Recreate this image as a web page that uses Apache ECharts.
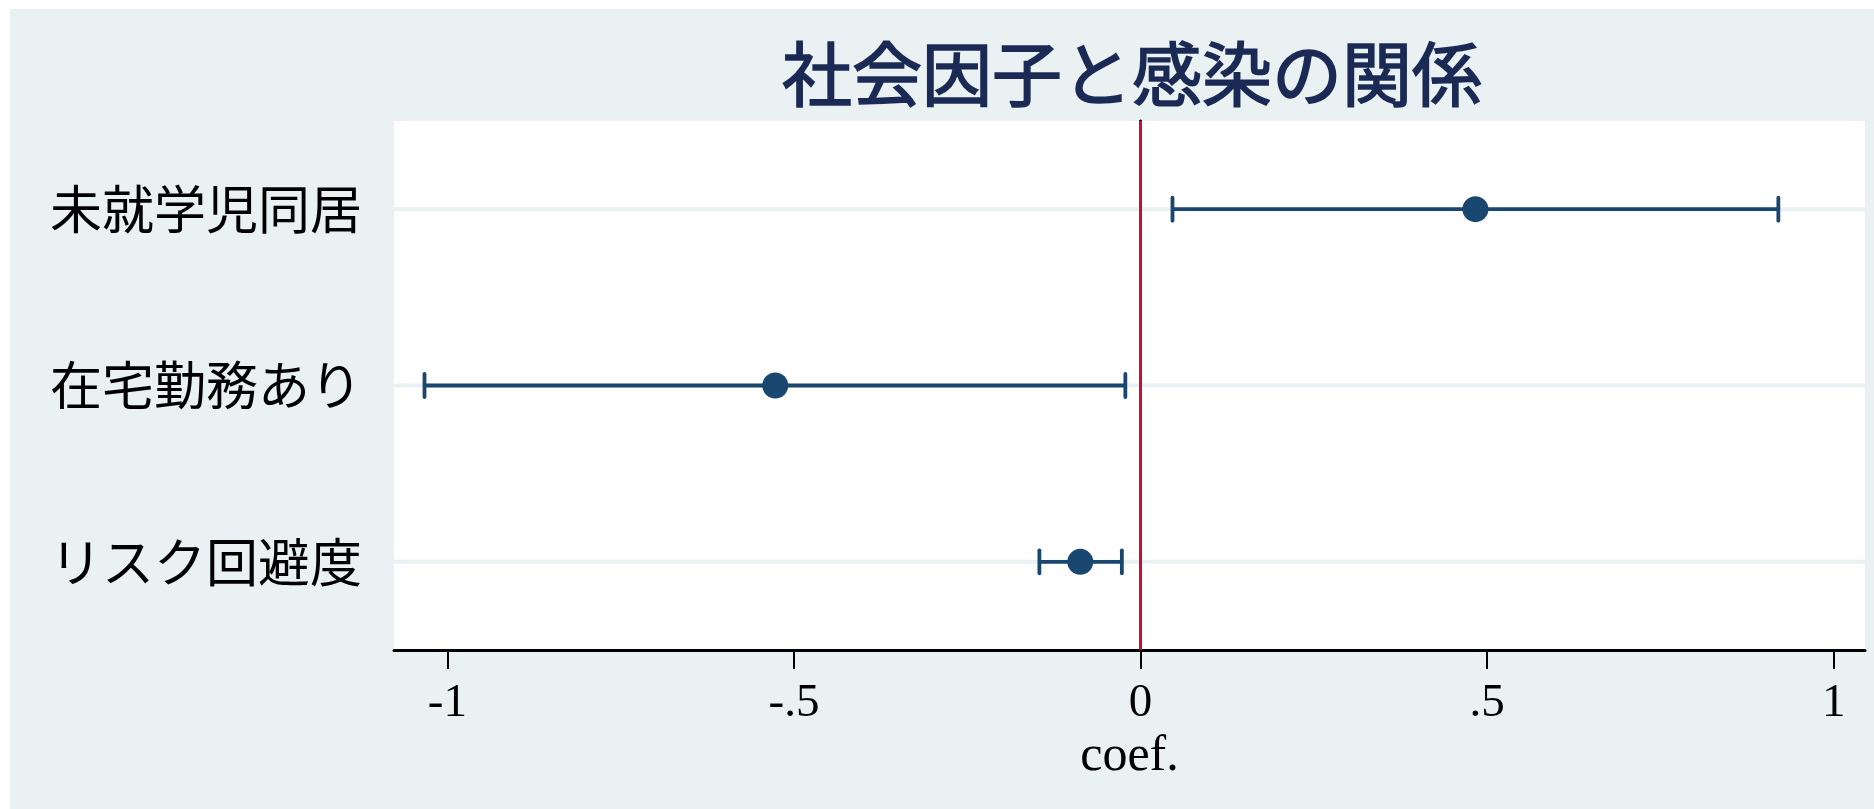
<!DOCTYPE html>
<html>
<head>
<meta charset="utf-8">
<script src="https://cdn.jsdelivr.net/npm/echarts@6/dist/echarts.min.js"></script>
<style>
  html, body { margin: 0; padding: 0; background: #ffffff; }
  #chart { width: 1874px; height: 809px; }
</style>
</head>
<body>
<div id="chart"></div>
<script>
// Factors, listed top to bottom
const factors = ['未就学児同居', '在宅勤務あり', 'リスク回避度'];
// Point estimates (coef.)
const coefs = [0.483, -0.527, -0.087];
// Confidence interval bounds
const lowerCI = [0.046, -1.033, -0.146];
const upperCI = [0.920, -0.022, -0.027];
// X axis tick positions and their labels
const xTicks = [-1, -0.5, 0, 0.5, 1];
const xTickLabels = ['-1', '-.5', '0', '.5', '1'];

const NAVY = '#1A476F';
const BG = '#E9F1F2';
const TITLE_COLOR = '#1B2A55';

const chart = echarts.init(document.getElementById('chart'));

const tickLabelMap = {};
xTicks.forEach((v, i) => { tickLabelMap[v] = xTickLabels[i]; });

chart.setOption({
  backgroundColor: '#ffffff',
  animation: false,
  graphic: [{
    type: 'rect',
    z: -10,
    silent: true,
    shape: { x: 10, y: 9, width: 1864, height: 800 },
    style: { fill: BG }
  }],
  title: {
    text: '社会因子と感染の関係',
    left: 777,
    top: 33,
    textStyle: {
      fontFamily: 'Noto Sans CJK JP',
      fontSize: 70,
      fontWeight: 'normal',
      color: TITLE_COLOR,
      textBorderColor: TITLE_COLOR,
      textBorderWidth: 1.6,
      lineHeight: 72
    }
  },
  grid: {
    left: 394,
    right: 9,
    top: 121,
    bottom: 159,
    show: true,
    backgroundColor: '#ffffff',
    borderWidth: 0
  },
  xAxis: {
    type: 'value',
    min: -1.077,
    max: 1.045,
    name: 'coef.',
    nameLocation: 'middle',
    nameGap: 76,
    nameTextStyle: {
      fontFamily: 'Liberation Serif',
      fontSize: 50,
      color: '#000000'
    },
    axisLine: { show: true, lineStyle: { color: '#000000', width: 3 } },
    axisTick: {
      show: true,
      length: 19,
      customValues: xTicks,
      lineStyle: { color: '#000000', width: 2 }
    },
    axisLabel: {
      customValues: xTicks,
      margin: 30,
      fontFamily: 'Liberation Serif',
      fontSize: 47,
      color: '#000000',
      formatter: v => tickLabelMap[v] !== undefined ? tickLabelMap[v] : ''
    },
    splitLine: { show: false }
  },
  yAxis: {
    type: 'category',
    data: factors,
    inverse: true,
    boundaryGap: true,
    axisLine: { show: true, lineStyle: { color: '#000000', width: 3 } },
    axisTick: {
      show: true,
      alignWithLabel: true,
      length: 19,
      lineStyle: { color: '#000000', width: 2 }
    },
    axisLabel: {
      margin: 32,
      fontFamily: 'Noto Sans CJK JP',
      fontSize: 52,
      color: '#000000'
    },
    splitLine: { show: false }
  },
  series: [
    {
      // horizontal guide line through each factor row
      type: 'custom',
      z: 1,
      silent: true,
      data: factors.map((f, i) => [0, i]),
      encode: { x: 0, y: 1 },
      renderItem: (params, api) => {
        const cs = params.coordSys;
        const p = api.coord([api.value(0), api.value(1)]);
        return {
          type: 'line',
          shape: { x1: cs.x, y1: p[1], x2: cs.x + cs.width, y2: p[1] },
          style: { stroke: BG, lineWidth: 4 }
        };
      }
    },
    {
      // confidence interval bars with end caps
      type: 'custom',
      z: 3,
      data: factors.map((f, i) => [lowerCI[i], upperCI[i], i]),
      encode: { x: [0, 1], y: 2 },
      renderItem: (params, api) => {
        const lo = api.coord([api.value(0), api.value(2)]);
        const hi = api.coord([api.value(1), api.value(2)]);
        const h = 11.5;
        const style = { stroke: NAVY, lineWidth: 3.8, lineCap: 'round' };
        return {
          type: 'group',
          children: [
            { type: 'line', shape: { x1: lo[0], y1: lo[1], x2: hi[0], y2: hi[1] }, style: { stroke: NAVY, lineWidth: 3.8 } },
            { type: 'line', shape: { x1: lo[0], y1: lo[1] - h, x2: lo[0], y2: lo[1] + h }, style },
            { type: 'line', shape: { x1: hi[0], y1: hi[1] - h, x2: hi[0], y2: hi[1] + h }, style }
          ]
        };
      }
    },
    {
      type: 'scatter',
      z: 4,
      symbol: 'circle',
      symbolSize: 26,
      itemStyle: { color: NAVY, opacity: 1 },
      data: coefs.map((v, i) => [v, i]),
      markLine: {
        silent: true,
        symbol: ['none', 'none'],
        label: { show: false },
        lineStyle: { color: '#C80C38', width: 3, type: 'solid' },
        data: [{ xAxis: 0 }]
      }
    }
  ]
});
</script>
</body>
</html>
